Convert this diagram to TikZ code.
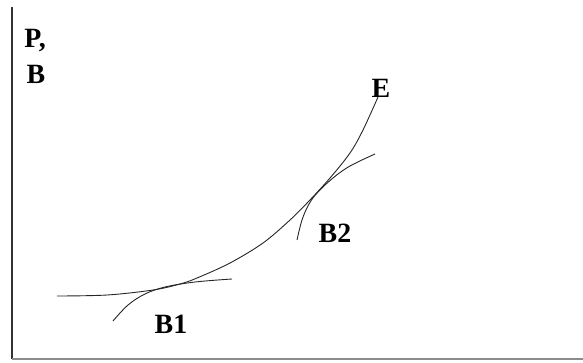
\documentclass[tikz,border=0pt]{standalone}
\usepackage{fontspec}
\setmainfont{Liberation Serif}
\begin{document}
\begin{tikzpicture}[x=1bp,y=-1bp,
  curve/.style={line width=0.9bp, black!85},
  axis/.style={line width=1.4bp, black!80},
  lab/.style={font=\fontsize{28}{28}\selectfont\bfseries, inner sep=0pt, anchor=center}]
\useasboundingbox (0,0) rectangle (583,362);
% axes
\coordinate (top) at (12,7);
\coordinate (origin) at (12,359);
\coordinate (right) at (583,359);
\draw[axis] (top) -- (origin);
\draw[line width=1.2bp, black!45] (origin) -- (right);
% main curve E
\draw[curve] plot[smooth, tension=0.55] coordinates
  {(57,296) (107,295) (153,290) (180,284) (197,278) (230,263) (263,243) (290,220) (309,201) (330,178) (350,153) (363,130) (378,97)};
% B1 tangent curve
\draw[curve] plot[smooth, tension=0.6] coordinates
  {(113,321) (128,305) (145,294) (165,287) (195,282) (232,279)};
% B2 tangent curve
\draw[curve] plot[smooth, tension=0.6] coordinates
  {(297,240) (302,220) (309,204) (318,192) (333,178) (350,166) (375,154)};
% labels
\node[lab] (P) at (35,41) {P,};
\node[lab] (B) at (36,74) {B};
\node[lab] (E) at (381,88) {E};
\node[lab] (B2) at (335,233) {B2};
\node[lab] (B1) at (171,324) {B1};
\end{tikzpicture}
\end{document}
